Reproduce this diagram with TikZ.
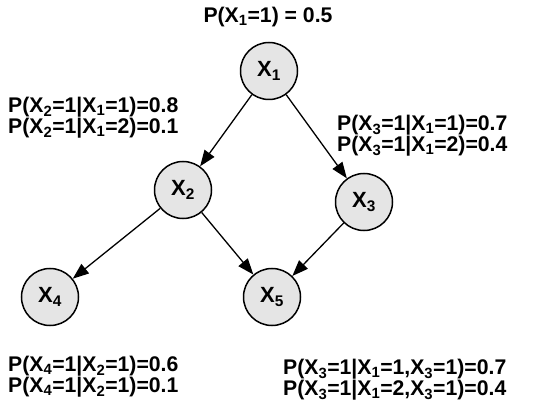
\documentclass[tikz,border=0pt]{standalone}
\usepackage{fontspec}
\setmainfont{Liberation Sans}
\usetikzlibrary{arrows.meta}
\begin{document}
\begin{tikzpicture}[x=1pt,y=-1pt,
  var/.style={circle,draw=black,line width=1.5pt,fill=black!10,minimum size=57pt,inner sep=0pt,font=\bfseries\fontsize{22}{24}\selectfont},
  lab/.style={anchor=west,align=left,inner sep=0pt,font=\bfseries\fontsize{21.2}{21}\selectfont},
  edge/.style={line width=1.3pt,-{Triangle[length=16pt,width=12pt]}}]
\useasboundingbox (0,0) rectangle (538,406);
\node[var] (x1) at (269,71) {X\textsubscript{1}};
\node[var] (x2) at (183,190) {X\textsubscript{2}};
\node[var] (x3) at (364,202) {X\textsubscript{3}};
\node[var] (x4) at (50,297) {X\textsubscript{4}};
\node[var] (x5) at (272,297) {X\textsubscript{5}};
\draw[edge] (x1) -- (x2);
\draw[edge] (x1) -- (x3);
\draw[edge] (x2) -- (x4);
\draw[edge] (x2) -- (x5);
\draw[edge] (x3) -- (x5);
\node[lab,anchor=center] (t1) at (268,17) {P(X\textsubscript{1}=1) = 0.5};
\node[lab] (t2) at (8,118) {P(X\textsubscript{2}=1|X\textsubscript{1}=1)=0.8\\P(X\textsubscript{2}=1|X\textsubscript{1}=2)=0.1};
\node[lab] (t3) at (337,136) {P(X\textsubscript{3}=1|X\textsubscript{1}=1)=0.7\\P(X\textsubscript{3}=1|X\textsubscript{1}=2)=0.4};
\node[lab] (t4) at (8,377) {P(X\textsubscript{4}=1|X\textsubscript{2}=1)=0.6\\P(X\textsubscript{4}=1|X\textsubscript{2}=1)=0.1};
\node[lab] (t5) at (283,380) {P(X\textsubscript{3}=1|X\textsubscript{1}=1,X\textsubscript{3}=1)=0.7\\P(X\textsubscript{3}=1|X\textsubscript{1}=2,X\textsubscript{3}=1)=0.4};
\end{tikzpicture}
\end{document}
